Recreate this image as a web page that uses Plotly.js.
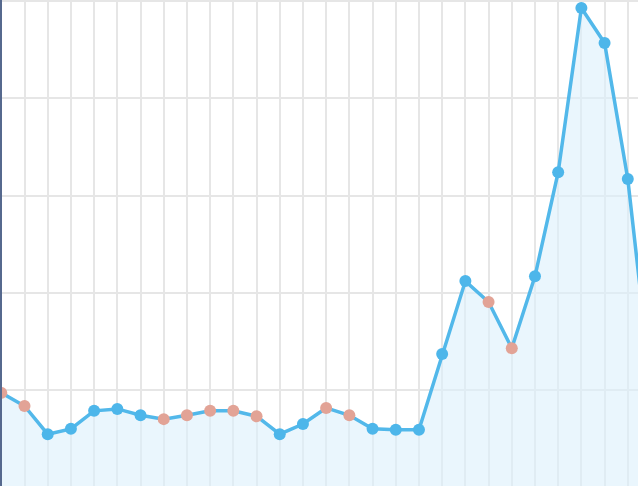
<!DOCTYPE html>
<html>
<head>
<meta charset="utf-8">
<script src="https://cdn.plot.ly/plotly-3.0.1.min.js"></script>
<style>html,body{margin:0;padding:0;background:#fff;}#chart{width:638px;height:486px;}</style>
</head>
<body>
<div id="chart"></div>
<script>
const periods = [0,1,2,3,4,5,6,7,8,9,10,11,12,13,14,15,16,17,18,19,20,21,22,23,24,25,26,27,28];
const values = [9.7,8.35,5.45,6.0,7.85,8.05,7.4,7.0,7.4,7.85,7.85,7.3,5.45,6.5,8.15,7.4,6.0,5.9,5.9,13.7,21.2,19.05,14.3,21.7,32.4,49.3,45.7,31.7,10.5];
const flagged = [1,1,0,0,0,0,0,1,1,1,1,1,0,0,1,1,0,0,0,0,0,1,1,0,0,0,0,0,0];

const markerColors = flagged.map(f => f ? '#e2a396' : '#4db6ea');

const trace = {
  x: periods,
  y: values,
  type: 'scatter',
  mode: 'lines+markers',
  fill: 'tozeroy',
  fillcolor: 'rgba(220,240,252,0.6)',
  line: {color: '#52b8ea', width: 3.5},
  marker: {color: markerColors, size: 12, line: {width: 0}},
  hoverinfo: 'x+y'
};

const layout = {
  width: 638,
  height: 486,
  margin: {l: 2, r: 0, t: 0, b: 0, pad: 0},
  paper_bgcolor: '#ffffff',
  plot_bgcolor: '#ffffff',
  showlegend: false,
  xaxis: {
    range: [0.03, 27.44],
    dtick: 1,
    tick0: 0,
    showgrid: true,
    gridcolor: '#e6e6e6',
    gridwidth: 2,
    zeroline: false,
    showticklabels: false,
    ticks: '',
    showline: false
  },
  yaxis: {
    range: [0.12, 50.12],
    dtick: 10,
    tick0: 0,
    showgrid: true,
    gridcolor: '#e6e6e6',
    gridwidth: 2,
    zeroline: false,
    showticklabels: false,
    ticks: '',
    showline: true,
    linecolor: '#56698e',
    linewidth: 2
  }
};

Plotly.newPlot('chart', [trace], layout, {displayModeBar: false, staticPlot: true});
</script>
</body>
</html>
